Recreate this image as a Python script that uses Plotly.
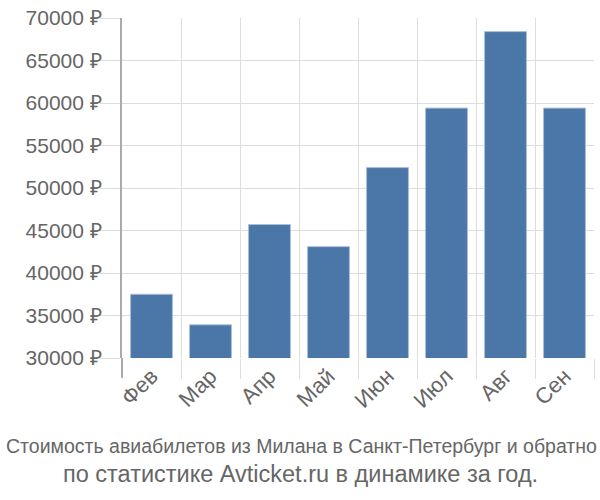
import plotly.graph_objects as go

months = ["Фев", "Мар", "Апр", "Май", "Июн", "Июл", "Авг", "Сен"]
prices = [37500, 33900, 45700, 43100, 52400, 59400, 68400, 59400]
y_ticks = [30000, 35000, 40000, 45000, 50000, 55000, 60000, 65000, 70000]
title_line1 = "Стоимость авиабилетов из Милана в Санкт-Петербург и обратно"
title_line2 = "по статистике Avticket.ru в динамике за год."

fig = go.Figure()
fig.add_trace(go.Bar(
    x=months, y=prices,
    marker=dict(color="#4a76a8", line=dict(color="#a9bfd9", width=1)),
))

fig.update_layout(
    width=600, height=500,
    margin=dict(l=122, r=6, t=14, b=142),
    paper_bgcolor="white", plot_bgcolor="white",
    bargap=0.29,
    showlegend=False,
    font=dict(family="Liberation Sans, Arial, sans-serif", color="#666666", size=20),
)
fig.update_xaxes(
    type="category",
    tickson="boundaries",
    showgrid=True, gridcolor="#dddddd", gridwidth=1,
    ticks="outside", ticklen=20, tickcolor="#dddddd", tickwidth=1,
    tickangle=-45,
    tickfont=dict(size=22, color="#666666"),
    showline=False, zeroline=False,
)
fig.update_yaxes(
    range=[30000, 70000],
    tickvals=y_ticks,
    ticktext=[f"{v} ₽" for v in y_ticks],
    showgrid=True, gridcolor="#dddddd", gridwidth=1,
    ticks="outside", ticklen=20, tickcolor="#dddddd", tickwidth=1,
    ticklabelstandoff=-6,
    tickfont=dict(size=21, color="#666666"),
    showline=True, linecolor="#aaaaaa", linewidth=2,
    zeroline=False,
)
fig.add_shape(type="line", xref="paper", yref="paper",
              x0=0, x1=0, y0=0, y1=-20/344,
              line=dict(color="#aaaaaa", width=2))

fig.add_annotation(text=title_line1, xref="paper", yref="paper",
                   x=(301-122)/472, y=-(447-358)/344, xanchor="center", yanchor="middle",
                   showarrow=False,
                   font=dict(family="Liberation Sans, sans-serif", size=19.5, color="#666666"))
fig.add_annotation(text=title_line2, xref="paper", yref="paper",
                   x=(300-122)/472, y=-(475-358)/344, xanchor="center", yanchor="middle",
                   showarrow=False,
                   font=dict(family="Liberation Sans, sans-serif", size=23.5, color="#666666"))

fig.write_html("out.html")
